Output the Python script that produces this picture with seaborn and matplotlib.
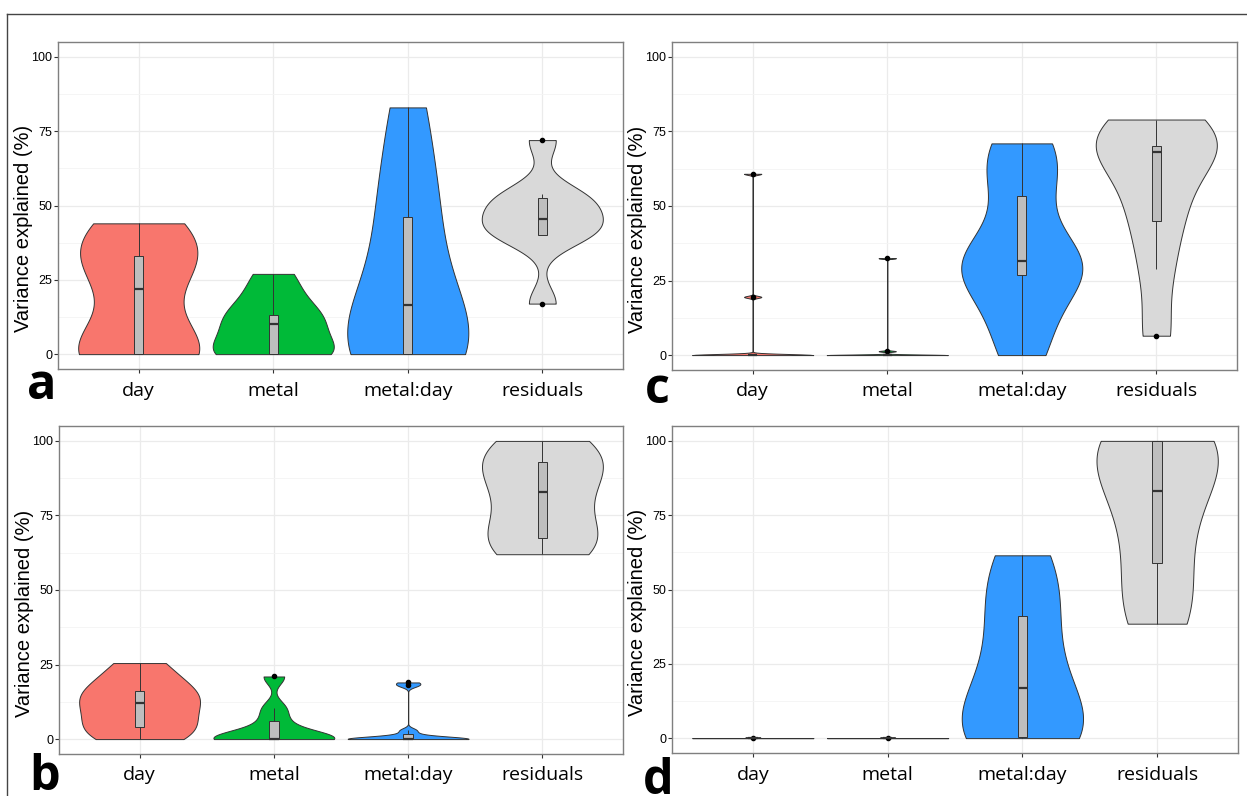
import numpy as np
import pandas as pd
import matplotlib.pyplot as plt
from matplotlib.lines import Line2D
from matplotlib.ticker import MultipleLocator
import seaborn as sns

# categories and colours
terms = ['day', 'metal', 'metal:day', 'residuals']
fill_colors = ['#F8766D', '#00BA38', '#3399FF', '#D9D9D9']

# panel a - variance explained (%) per term
a_day = [0, 0, 0, 3, 22, 31, 33, 40, 44]
a_metal = [0, 0, 0, 2, 10, 12, 13, 20, 27]
a_metal_day = [0, 0, 0, 5, 16.5, 30, 46, 60, 83]
a_resid = [17, 40, 40, 43, 45.5, 50, 52.5, 54, 72]

# panel b
b_day = [0, 2, 4, 8, 12, 14, 16, 20, 25.5]
b_metal = [0, 0, 0, 0, 0, 2, 6, 10.5, 21]
b_metal_day = [0, 0, 0, 0, 0, 0, 0, 0.5, 1.5, 3, 18, 19]
b_resid = [62, 65, 67.5, 75, 83, 88, 93, 97, 100]

# panel c
c_day = [0, 0, 0, 0, 0, 0, 0, 19.5, 60.8]
c_metal = [0, 0, 0, 0, 0, 0, 0, 1.3, 32.5]
c_metal_day = [0, 12, 27, 29, 31.5, 33, 53.5, 65, 71]
c_resid = [6.5, 29, 45, 53, 68, 69, 70, 75, 79]

# panel d
d_day = [0, 0, 0, 0, 0, 0, 0, 0, 0.2]
d_metal = [0, 0, 0, 0, 0, 0, 0, 0, 0.2]
d_metal_day = [0, 0, 0.3, 8, 17, 28, 41, 52, 61.5]
d_resid = [38.5, 44, 59, 72, 83, 92, 99.8, 100, 100]

panels = [
    ('a', [a_day, a_metal, a_metal_day, a_resid]),
    ('b', [b_day, b_metal, b_metal_day, b_resid]),
    ('c', [c_day, c_metal, c_metal_day, c_resid]),
    ('d', [d_day, d_metal, d_metal_day, d_resid]),
]

W, H = 1247, 796
# axes boxes in pixels: left, top, right, bottom
boxes = {'a': (58, 42, 623, 369), 'c': (672, 42, 1237, 370),
         'b': (59, 426, 623, 754), 'd': (672, 426, 1238, 753)}
letters = {'a': (42, 399), 'c': (657, 403), 'b': (45, 790), 'd': (658, 794)}


def bw_factor(vals):
    # R's bw.nrd0 expressed as a scipy factor
    x = np.asarray(vals, float)
    sd = x.std(ddof=1)
    q75, q25 = np.percentile(x, [75, 25])
    iqr = q75 - q25
    lo = iqr / 1.34 if iqr > 0 else 0.03 * sd
    lo = min(sd, lo)
    return 0.9 * lo * len(x) ** -0.2 / sd


fig = plt.figure(figsize=(W / 100, H / 100), dpi=100)

for name, groups in panels:
    l, t, r, b = boxes[name]
    ax = fig.add_axes([l / W, 1 - b / H, (r - l) / W, (b - t) / H])
    ax.set_axisbelow(True)

    for term, vals, col in zip(terms, groups, fill_colors):
        sns.violinplot(x=[term] * len(vals), y=vals, order=terms, color=col,
                       saturation=1, inner=None, cut=0, density_norm='width',
                       width=0.9, gridsize=512, bw_method=bw_factor(vals),
                       linewidth=0.7, linecolor='#333333', ax=ax)

    df = pd.DataFrame({'term': np.repeat(terms, [len(g) for g in groups]),
                       'value': np.concatenate(groups)})
    sns.boxplot(data=df, x='term', y='value', order=terms, width=0.07,
                color='#BEBEBE', saturation=1, linecolor='#333333',
                linewidth=0.7, showcaps=False, fliersize=3,
                flierprops=dict(marker='o', markerfacecolor='black',
                                markeredgecolor='black'),
                medianprops=dict(linewidth=1.6), ax=ax)

    ax.set_xlim(-0.6, 3.6)
    ax.set_ylim(-5, 105)
    ax.set_yticks([0, 25, 50, 75, 100])
    ax.yaxis.set_minor_locator(MultipleLocator(12.5))
    ax.grid(which='major', color='#EBEBEB', linewidth=0.9)
    ax.grid(which='minor', axis='y', color='#F4F4F4', linewidth=0.6)
    ax.tick_params(axis='y', which='minor', length=0)
    ax.tick_params(axis='y', which='major', length=3, color='#333333',
                   labelsize=9, pad=1)
    ax.tick_params(axis='x', length=3, color='#333333', labelsize=14, pad=6)
    for lab in ax.get_yticklabels():
        lab.set_family('Liberation Sans')
    for lab in ax.get_xticklabels():
        lab.set_family('Open Sans')
    for sp in ax.spines.values():
        sp.set_color('#7F7F7F')
        sp.set_linewidth(1)
    ax.set_xlabel('')
    ax.set_ylabel('Variance explained (%)', fontsize=14.5,
                  family='Liberation Sans')
    ax.yaxis.set_label_coords(-25 / (r - l), 0.43)

    lx, ly = letters[name]
    fig.text(lx / W, 1 - ly / H, name, fontsize=35, fontweight='bold',
             family='Open Sans', ha='center', va='baseline')

# frame lines of the original composite
fig.add_artist(Line2D([7 / W, 1], [1 - 14 / H, 1 - 14 / H], color='#444444', lw=1))
fig.add_artist(Line2D([7 / W, 7 / W], [0, 1 - 14 / H], color='#444444', lw=1))

plt.savefig('out.png', dpi=100)
